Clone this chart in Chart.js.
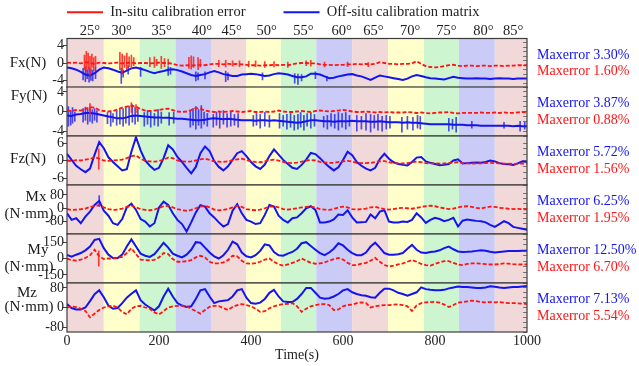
<!DOCTYPE html>
<html><head><meta charset="utf-8">
<script src="https://cdn.jsdelivr.net/npm/chart.js@4.4.1/dist/chart.umd.min.js"></script>
<style>
html,body{margin:0;padding:0;background:#fff;}
#wrap{position:relative;width:639px;height:366px;overflow:hidden;background:#fff;}
.pane{position:absolute;left:0;width:639px;}
</style></head><body><div id="wrap"></div>
<script>
// ---------- data ----------
const time = [0,10,20,30,40,50,60,70,80,90,100,110,120,130,140,150,160,170,180,190,200,210,220,230,240,250,260,270,280,290,300,310,320,330,340,350,360,370,380,390,400,410,420,430,440,450,460,470,480,490,500,510,520,530,540,550,560,570,580,590,600,610,620,630,640,650,660,670,680,690,700,710,720,730,740,750,760,770,780,790,800,810,820,830,840,850,860,870,880,890,900,910,920,930,940,950,960,970,980,990,1000];
const timeTicks = [0,200,400,600,800,1000];
const angleLabels = ['25°','30°','35°','40°','45°','50°','55°','60°','65°','70°','75°','80°','85°'];
const anglePos = [50,119,206,293,358,434,514,597,666,746,825,905,970];
const bandEdges = [0,80,158,236,313,390,465,542,620,698,776,852,930,1000];

const fxOff = [-1.0,-1.2,-1.5,-2.0,-2.6,-2.8,-2.3,-1.5,-1.0,-1.2,
 -1.5,-1.9,-2.2,-1.7,-1.2,-1.0,-1.3,-1.6,-2.0,-2.3,
 -2.0,-1.8,-1.5,-1.4,-1.6,-1.9,-2.3,-2.7,-2.9,-2.7,
 -2.5,-2.1,-1.8,-2.1,-2.5,-2.7,-2.9,-2.9,-2.6,-2.5,
 -2.4,-2.5,-2.7,-2.9,-2.8,-2.5,-2.3,-2.4,-2.6,-2.9,
 -3.2,-3.2,-3.0,-2.4,-2.4,-2.6,-3.0,-3.4,-3.3,-3.0,
 -2.8,-2.6,-2.5,-2.8,-3.0,-3.4,-3.8,-3.3,-2.8,-3.0,
 -3.2,-3.4,-3.6,-3.8,-3.5,-3.0,-2.7,-2.9,-3.2,-3.4,
 -3.5,-3.6,-3.7,-3.4,-3.1,-3.3,-3.4,-3.5,-3.5,-3.4,
 -3.5,-3.5,-3.6,-3.5,-3.4,-3.5,-3.5,-3.6,-3.5,-3.5,-3.5];
const fxIn = [0.1,0.0,0.1,-0.1,0.2,0.0,-0.2,0.1,0.0,-0.1,
 0.0,0.1,-0.1,0.0,0.1,-0.1,0.0,0.0,-0.1,0.0,
 0.1,0.0,0.0,-0.2,-0.5,-0.6,-0.5,-0.6,-0.5,-0.4,
 -0.5,-0.3,-0.2,-0.2,-0.3,-0.2,-0.3,-0.2,-0.3,-0.4,
 -0.5,-0.5,-0.6,-0.5,-0.5,-0.4,-0.5,-0.4,-0.5,-0.3,
 -0.1,0.0,0.0,-0.1,-0.1,-0.3,-0.4,-0.4,-0.5,-0.4,
 -0.4,-0.3,-0.3,-0.2,-0.3,-0.2,-0.3,-0.2,0.2,0.0,
 -0.2,-0.2,-0.3,-0.2,-0.2,-0.1,0.4,-0.2,-0.7,-0.9,
 -1.0,-0.9,-0.7,-0.5,-0.4,-0.6,-0.7,-0.6,-0.6,-0.7,
 -0.6,-0.6,-0.7,-0.6,-0.6,-0.7,-0.6,-0.6,-0.5,-0.5,-0.5];
const fyOff = [-0.8,-0.9,-0.6,-0.5,-0.3,-0.3,-0.4,-0.6,-0.8,-1.0,
 -1.2,-1.4,-1.4,-1.2,-0.9,-0.8,-0.9,-1.0,-1.1,-1.2,
 -1.2,-1.3,-1.3,-1.4,-1.5,-1.5,-1.6,-1.7,-1.8,-1.8,
 -1.7,-1.5,-1.4,-1.5,-1.6,-1.5,-1.6,-1.7,-1.8,-1.8,
 -1.8,-1.9,-1.8,-1.8,-1.9,-1.8,-1.9,-2.0,-2.1,-2.2,
 -2.3,-2.2,-2.0,-1.8,-1.8,-1.9,-2.0,-2.0,-2.1,-2.0,
 -2.0,-2.0,-1.9,-2.0,-2.0,-2.0,-2.1,-2.1,-2.0,-2.1,
 -2.2,-2.2,-2.2,-2.3,-2.2,-2.3,-2.3,-2.4,-2.5,-2.6,
 -2.6,-2.6,-2.6,-2.6,-2.7,-2.7,-2.7,-2.8,-2.8,-2.8,
 -2.9,-2.9,-2.9,-2.9,-2.9,-2.9,-2.9,-3.0,-2.9,-3.0,-3.0];
const fyIn = [0.2,0.1,0.3,0.2,0.5,0.9,0.8,0.3,0.1,0.0,
 0.1,0.4,0.8,1.0,1.2,1.0,0.5,0.2,0.1,0.2,
 0.3,0.5,0.6,0.3,0.0,-0.1,0.0,0.3,0.7,0.6,
 0.2,0.0,-0.1,0.0,-0.1,0.0,0.1,0.0,-0.1,0.0,
 0.1,-0.1,-0.1,0.0,-0.1,0.0,0.2,0.0,-0.1,-0.1,
 0.0,0.1,0.0,-0.1,0.1,0.2,0.1,0.0,0.1,0.2,
 0.3,0.2,0.0,-0.1,-0.1,0.0,-0.1,-0.2,-0.1,-0.2,
 -0.1,-0.2,-0.2,-0.2,-0.1,-0.2,-0.3,-0.2,-0.3,-0.4,
 -0.3,-0.2,-0.2,-0.1,-0.3,-0.4,-0.3,-0.3,-0.3,-0.3,
 -0.2,-0.3,-0.3,-0.2,-0.3,-0.2,-0.3,-0.3,-0.2,-0.1,-0.2];
const fzOff = [2.3,0.2,-1.8,-3.0,-4.0,-2.8,2.0,6.3,4.2,1.1,
 -0.5,-2.0,-3.4,-3.0,3.0,8.0,3.5,0.0,-1.8,-3.2,
 -2.5,0.8,5.2,3.8,1.2,-0.5,-2.5,-4.4,-2.2,2.5,
 4.8,3.2,-0.2,-2.2,-3.4,-2.0,0.2,2.5,3.2,1.5,
 -0.5,-2.0,-2.9,-1.4,1.5,3.8,2.0,0.2,-1.2,-2.5,
 -2.9,-1.5,0.3,2.6,2.2,0.8,-0.8,-2.2,-3.4,-2.3,
 0.2,3.0,1.8,-0.5,-1.8,-2.8,-3.4,-2.5,0.5,2.3,
 0.6,-0.6,-1.2,-1.5,-1.7,-0.5,1.0,1.2,-0.3,-0.8,
 -1.2,-1.6,-1.5,-1.2,0.0,0.4,-1.0,-0.9,-0.8,-0.7,
 -0.8,-0.5,0.0,-0.3,-0.9,-1.2,-1.3,-1.5,-1.0,-0.3,-0.5];
const fzIn = [0.0,-0.2,0.1,0.0,0.3,0.5,1.2,0.6,0.0,-0.1,
 0.0,0.1,0.3,0.8,1.5,1.7,0.6,-0.1,-0.3,-0.4,
 -0.2,0.3,1.0,0.8,0.0,-0.3,-0.4,-0.3,0.0,0.4,
 0.6,0.2,-0.3,-0.4,-0.5,-0.3,0.1,0.4,0.6,0.2,
 -0.3,-0.5,-0.6,-0.3,0.1,0.3,0.0,-0.5,-0.8,-0.9,
 -0.7,-0.4,0.0,0.2,0.0,-0.5,-0.7,-0.8,-0.8,-0.5,
 -0.3,-0.1,-0.4,-0.8,-0.9,-0.9,-0.8,-0.5,-0.3,-0.2,
 -0.6,-0.9,-1.0,-1.0,-0.9,-0.6,-0.4,-0.6,-0.9,-1.0,
 -1.0,-1.1,-1.0,-0.9,-0.7,-0.6,-0.9,-1.0,-1.1,-1.0,
 -1.0,-0.9,-0.8,-0.9,-1.0,-1.1,-1.1,-1.2,-1.1,-1.0,-1.1];
const mxOff = [-30,-70,-60,-90,-50,-20,20,45,-15,-45,
 -90,-100,-65,5,28,-10,-65,-80,-110,-90,
 5,40,20,-30,-70,-95,-140,-85,-25,18,
 10,-30,-55,-85,-110,-95,-15,25,-30,-70,
 -80,-95,-90,-40,20,10,-45,-70,-86,-60,
 -55,-30,0,12,-10,-86,-86,-80,-67,-38,
 -40,-12,-55,-86,-84,-82,-38,-60,-20,-12,
 -80,-86,-86,-80,-82,-70,-30,-55,-88,-70,
 -57,-65,-78,-70,-58,-110,-75,-68,-72,-76,
 -78,-85,-100,-112,-95,-78,-90,-112,-118,-124,-130];
const mxIn = [-5,-10,-8,-6,-2,8,15,18,5,-5,
 -10,-8,-2,8,15,5,-5,-10,-12,-8,
 2,12,15,5,-5,-12,-15,-10,0,10,
 15,5,-8,-12,-10,-5,5,15,8,-5,
 -10,-12,-8,0,10,12,5,-5,-8,-5,
 0,5,8,10,5,-5,-8,-10,-5,5,
 10,5,-5,-8,-5,-2,5,8,2,-5,
 -8,-5,0,2,0,-3,2,8,12,15,
 12,5,0,-5,-2,5,10,12,8,2,
 -2,5,10,8,3,0,-3,-5,-4,-6,-6];
const myOff = [32,16,35,50,75,110,170,180,95,35,
 5,5,35,110,175,110,45,25,15,40,
 90,145,100,45,25,10,35,80,150,145,
 100,55,20,0,30,80,155,130,55,20,
 10,30,70,130,120,60,30,25,45,60,
 90,140,150,115,80,50,30,55,90,140,
 120,80,50,30,30,55,110,145,100,50,
 35,35,40,50,90,125,80,55,50,60,
 65,75,95,110,85,65,60,62,65,70,
 75,72,62,55,60,65,68,70,70,72,72];
const myIn = [0,-15,-20,-10,5,30,80,20,-5,0,
 0,5,15,50,95,40,-10,-15,-16,-12,
 10,50,40,-5,-30,-30,-25,-15,10,25,
 10,-30,-45,-45,-35,-15,25,20,-20,-45,
 -48,-42,-30,-10,0,-30,-55,-65,-55,-40,
 -25,0,-20,-40,-48,-45,-35,-20,-5,5,
 -10,-40,-60,-60,-48,-40,-20,5,-30,-60,
 -74,-65,-55,-45,-30,-15,-30,-50,-60,-65,
 -50,-35,-25,-25,-40,-55,-60,-50,-45,-45,
 -48,-52,-55,-55,-50,-45,-48,-52,-55,-55,-55];
const mzOff = [14,-2,-8,-8,0,26,54,70,42,8,
 -5,-2,18,40,56,70,30,12,0,-12,
 5,45,77,45,18,8,2,5,35,70,
 75,45,18,25,28,30,45,70,75,40,
 18,15,20,35,60,72,45,25,22,22,
 35,55,80,80,60,40,36,38,45,55,
 70,75,62,55,50,48,42,40,60,77,
 77,70,60,55,48,55,62,82,75,72,
 70,70,72,78,82,86,84,84,82,80,
 80,82,87,85,82,80,82,84,84,86,88];
const mzIn = [0,4,2,-5,-14,-40,-25,-10,0,5,
 7,0,-18,-28,-5,5,7,0,-5,-20,
 -28,-15,0,5,7,7,5,-5,-15,-25,
 -10,3,7,6,-3,-10,2,10,14,10,
 5,-5,-18,-15,-3,5,10,14,15,18,
 5,-18,-5,5,10,13,14,10,-10,-8,
 5,10,12,18,21,18,0,5,8,10,
 10,12,13,10,5,-14,8,18,21,22,
 23,20,12,2,10,20,22,25,28,26,
 22,21,22,21,22,20,18,18,17,16,14];

// spikes: [time, low, high]
const fxOffSpikes = [[35,-3.8,-1.2],[40,-4.2,-0.8],[44,-3.5,-1.5],[48,-4.3,-1.0],[52,-3.9,-1.3],[56,-4.0,-1.6],[62,-3.5,-1.0],[118,-4.6,-1.2],[122,-3.2,-1.6],[133,-2.5,-0.6],[160,-3.0,-1.0],[220,-2.8,-0.8],[225,-2.5,-1.0],[280,-4.0,-2.0],[285,-3.8,-2.2],[300,-3.6,-2.0],[345,-4.2,-1.8],[350,-3.8,-2.2],[425,-3.8,-2.2],[495,-4.5,-2.4],[502,-4.8,-2.5],[510,-4.0,-2.6],[540,-3.5,-2.0],[565,-4.0,-3.0]];
const fxInSpikes = [[38,-1.5,1.8],[42,-2.0,2.6],[46,-1.2,2.2],[50,-2.8,1.5],[54,-1.0,2.0],[58,-1.8,1.2],[62,-0.8,1.5],[115,-1.5,2.4],[120,-2.2,2.0],[125,-1.0,1.6],[130,-1.5,2.2],[135,-0.8,1.4],[140,-1.2,1.8],[145,-0.6,1.2],[180,-0.8,1.2],[190,-1.0,1.4],[195,-0.6,0.8],[205,-1.2,1.5],[212,-0.8,1.0],[220,-0.5,0.9],[265,-1.2,1.3],[270,-1.4,1.6],[275,-1.0,1.4],[285,-1.5,1.2],[290,-0.9,0.8],[330,-0.8,0.6],[345,-0.9,0.6],[360,-0.7,0.5],[375,-0.8,0.5],[395,-0.9,0.4],[410,-0.8,0.5],[430,-1.0,0.3],[450,-0.9,0.3],[480,-1.0,0.2],[520,-0.6,0.5],[530,-0.7,0.6],[560,-0.9,0.2],[610,-0.8,0.2],[655,-0.8,0.1]];
const fyOffSpikes = [[3,-3.0,1.0],[8,-2.8,0.2],[12,-2.4,0.8],[17,-2.0,0.0],
 [35,-2.2,0.6],[40,-1.8,0.9],[45,-2.6,0.5],[50,-2.0,0.9],[55,-2.4,0.4],[60,-1.8,0.6],[65,-2.2,0.2],
 [88,-2.5,-0.2],[95,-3.0,0.0],[100,-2.2,-0.4],[108,-2.8,0.2],[115,-2.6,0.4],[122,-3.0,0.6],[128,-2.4,0.8],[135,-2.8,1.1],[142,-2.2,1.4],[148,-2.6,0.8],[154,-2.0,0.6],
 [168,-3.0,-0.2],[175,-2.6,0.2],[182,-3.2,0.0],[190,-2.8,-0.4],[198,-3.0,0.4],[205,-2.4,0.0],[222,-2.8,-0.2],[232,-2.4,0.0],
 [268,-3.2,0.2],[274,-2.8,0.6],[280,-3.6,1.0],[286,-2.8,0.4],[292,-3.4,1.2],[298,-2.6,0.0],[305,-3.0,-0.4],
 [318,-3.2,-0.6],[325,-2.8,0.0],[332,-3.4,-0.2],[340,-2.6,0.2],[348,-3.2,-0.4],[356,-3.0,0.0],[364,-2.8,-0.6],[372,-3.2,-0.4],
 [405,-3.0,-0.8],[412,-2.8,-0.4],[420,-3.4,-0.6],[430,-3.0,-0.2],[440,-3.2,-0.8],
 [462,-3.4,-0.4],[470,-3.0,-0.8],[478,-3.6,-0.6],[486,-3.2,-0.4],[494,-3.8,-0.8],
 [502,-3.6,-0.6],[508,-3.2,-0.2],[515,-3.8,-0.8],[522,-3.0,-0.4],[530,-3.4,-0.2],[538,-3.0,-0.6],
 [558,-3.2,-1.0],[566,-3.6,-0.8],[574,-3.0,-0.4],[582,-3.4,-0.6],[590,-3.8,-0.2],[598,-3.2,-0.4],[606,-3.6,-0.2],[614,-3.0,-0.8],
 [630,-4.0,-0.8],[640,-3.6,-1.0],[650,-3.8,-0.4],[660,-4.2,-0.6],[668,-3.4,-0.8],[676,-3.8,-0.6],[685,-4.0,-1.0],[694,-3.6,-0.8],[702,-3.4,-1.0],
 [728,-4.2,-1.2],[740,-3.6,-1.0],[752,-3.8,-1.2],[762,-3.4,-0.8],[768,-3.6,-1.0],
 [830,-4.0,-1.4],[838,-3.6,-1.6],[846,-4.2,-1.2],[880,-3.4,-2.0],[950,-3.4,-2.2],[985,-4.0,-2.0],[995,-3.6,-2.2]];
const fyInSpikes = [[50,-0.5,1.6],[140,-0.2,1.8],[150,-0.3,1.4]];
const fzInSpikes = [[69,-3.0,4.0]];
const mxOffSpikes = [[70,10,76]];
const myInSpikes = [[69,-70,70]];

const panelLabels = [['Fx(N)'],['Fy(N)'],['Fz(N)'],['Mx','(N·mm)'],['My','(N·mm)'],['Mz','(N·mm)']];
const tickSets = [[-4,0,4],[-4,0,4],[-6,0,6],[-80,0,80],[-150,0,150],[-80,0,80]];
const maxErrOff = ['3.30%','3.87%','5.72%','6.25%','12.50%','7.13%'];
const maxErrIn = ['1.60%','0.88%','1.56%','1.95%','6.70%','5.54%'];

const offSeries = [fxOff, fyOff, fzOff, mxOff, myOff, mzOff];
const inSeries = [fxIn, fyIn, fzIn, mxIn, myIn, mzIn];
const offSpikeSets = [fxOffSpikes, fyOffSpikes, [], mxOffSpikes, [], []];
const inSpikeSets = [fxInSpikes, fyInSpikes, fzInSpikes, [], myInSpikes, []];

// ---------- style ----------
const FONT = "'Liberation Serif','Times New Roman',serif";
const RED = '#ff1414', BLUE = '#1414ee';
const RED_SPIKE = 'rgba(255,30,20,0.85)', BLUE_SPIKE = 'rgba(20,20,235,0.75)';
const bandColors = ['#f2d9d9','#ffffcc','#cdf5d0','#cbcbf7'];
const axisMin = [-5.5,-5,-8.4,-155,-225,-100];
const axisMax = [5.5,5,8.4,140,225,100];
const minorStep = [1,1,2,30,50,20];
const labelX = [[28],[29],[28],[36,29],[38,29],[27,29]];
const labelDy = [[0],[-15],[-1],[-12,5],[-8,8.5],[-14.5,0]];
const PANEL_TOP = 38, PANEL_H = 49;

const decorPlugin = {
  id: 'decor',
  beforeDraw(chart) {
    const {ctx, chartArea: a, scales: {x}} = chart;
    ctx.save();
    for (let k = 0; k < bandEdges.length - 1; k++) {
      const x0 = x.getPixelForValue(bandEdges[k]);
      const x1 = x.getPixelForValue(bandEdges[k + 1]);
      ctx.fillStyle = bandColors[k % 4];
      ctx.fillRect(x0, a.top, x1 - x0, a.bottom - a.top);
    }
    ctx.restore();
  },
  afterDraw(chart, args, opts) {
    const {ctx, chartArea: a} = chart;
    const i = opts.panel;
    ctx.save();
    ctx.strokeStyle = '#3c3c3c'; ctx.lineWidth = 1.2;
    ctx.strokeRect(a.left, a.top, a.right - a.left, a.bottom - a.top);
    const cy = (a.top + a.bottom) / 2;
    ctx.fillStyle = '#1a1a1a';
    ctx.font = '15px ' + FONT;
    ctx.textAlign = 'center'; ctx.textBaseline = 'middle';
    panelLabels[i].forEach((s, k) => ctx.fillText(s, labelX[i][k], cy + labelDy[i][k]));
    ctx.textAlign = 'left';
    ctx.font = '14px ' + FONT;
    ctx.fillStyle = BLUE; ctx.fillText('Maxerror ' + maxErrOff[i], 537, a.top + 16.5);
    ctx.fillStyle = RED; ctx.fillText('Maxerror ' + maxErrIn[i], 537, a.top + 33);
    ctx.restore();
  }
};

const wrap = document.getElementById('wrap');
const toPoints = arr => time.map((t, k) => ({x: t, y: arr[k]}));
const toBars = list => list.map(s => ({x: s[0], y: [s[1], s[2]]}));

function makePanel(i) {
  const first = i === 0, last = i === 5;
  const H = first ? 130 : (last ? 100 : 80);
  const div = document.createElement('div');
  div.className = 'pane'; div.style.height = H + 'px';
  const cv = document.createElement('canvas');
  cv.width = 639; cv.height = H; cv.style.width = '639px'; cv.style.height = H + 'px';
  div.appendChild(cv); wrap.appendChild(div);

  const tickFont = {family: FONT, size: 14};
  const scales = {
    x: {type: 'linear', min: 0, max: 1000, offset: false, display: last,
        afterBuildTicks: s => { s.ticks = timeTicks.map(v => ({value: v})); },
        ticks: {font: tickFont, color: '#222', padding: 1, maxRotation: 0, autoSkip: false, callback: v => String(v)},
        grid: {display: false, drawTicks: false}, border: {display: false},
        title: {display: true, text: 'Time(s)', font: tickFont, color: '#222', padding: {top: 0, bottom: 2}},
        afterFit: s => { s.height = 34; }},
    y: {type: 'linear', position: 'left', min: axisMin[i], max: axisMax[i],
        afterBuildTicks: s => { s.ticks = tickSets[i].map(v => ({value: v})); },
        ticks: {font: tickFont, color: '#222', padding: -1, callback: v => String(v)},
        grid: {drawOnChartArea: false, drawTicks: true, tickLength: 4, color: '#444'},
        border: {display: false},
        afterFit: s => { s.width = first ? 38 : 67; }},
    yr: {type: 'linear', position: 'right', min: axisMin[i], max: axisMax[i],
        ticks: {display: false, stepSize: minorStep[i]},
        grid: {drawOnChartArea: false, drawTicks: true, tickLength: -4, color: '#777'},
        border: {display: false},
        afterFit: s => { s.width = 112; }}
  };
  if (first) {
    scales.xa = {type: 'linear', position: 'top', min: 0, max: 1000, offset: false,
        afterBuildTicks: s => { s.ticks = anglePos.map(v => ({value: v})); },
        ticks: {font: {family: FONT, size: 14.5}, color: '#222', padding: -1, maxRotation: 0, autoSkip: false,
                callback: v => angleLabels[anglePos.indexOf(v)]},
        grid: {display: false, drawTicks: false}, border: {display: false},
        afterFit: s => { s.height = 21.5; }};
  }

  const datasets = [
    {type: 'line', label: 'In-situ calibration error', data: toPoints(inSeries[i]), borderColor: RED, backgroundColor: RED,
     borderWidth: 1.8, borderDash: [4, 2], pointRadius: 0, pointStyle: 'line', tension: 0, fill: false, xAxisID: 'x', yAxisID: 'y'},
    {type: 'bar', label: '', data: toBars(inSpikeSets[i]), backgroundColor: RED_SPIKE, barThickness: 1, grouped: false, xAxisID: 'x', yAxisID: 'y'},
    {type: 'line', label: 'Off-situ calibration matrix', data: toPoints(offSeries[i]), borderColor: BLUE, backgroundColor: BLUE,
     borderWidth: 2, pointRadius: 0, pointStyle: 'line', tension: 0, fill: false, xAxisID: 'x', yAxisID: 'y'},
    {type: 'bar', label: '', data: toBars(offSpikeSets[i]), backgroundColor: BLUE_SPIKE, barThickness: 1, grouped: false, xAxisID: 'x', yAxisID: 'y'}
  ];

  const chart = new Chart(cv, {
    type: 'line',
    data: {datasets},
    options: {
      responsive: false, maintainAspectRatio: false, animation: false, events: [],
      layout: {padding: {top: first ? -33 : 12, left: first ? 29 : 0, right: 0, bottom: last ? 0 : 12}},
      scales,
      plugins: {
        tooltip: {enabled: false},
        decor: {panel: i},
        legend: {display: first, position: 'top', align: 'start', maxHeight: 50,
          labels: {usePointStyle: true, pointStyleWidth: 36, padding: 38, color: '#222',
                   font: {family: FONT, size: 14.5}, filter: it => it.text !== ''}}
      }
    },
    plugins: [decorPlugin]
  });
  const a = chart.chartArea;
  const extra = (a.bottom - a.top) - PANEL_H;
  if (Math.abs(extra) > 0.01) {
    chart.options.layout.padding.bottom = (last ? 0 : 12) + extra;
    chart.update();
  }
  div.style.top = (PANEL_TOP + PANEL_H * i - chart.chartArea.top) + 'px';
}
for (let i = 0; i < 6; i++) makePanel(i);
</script></body></html>
